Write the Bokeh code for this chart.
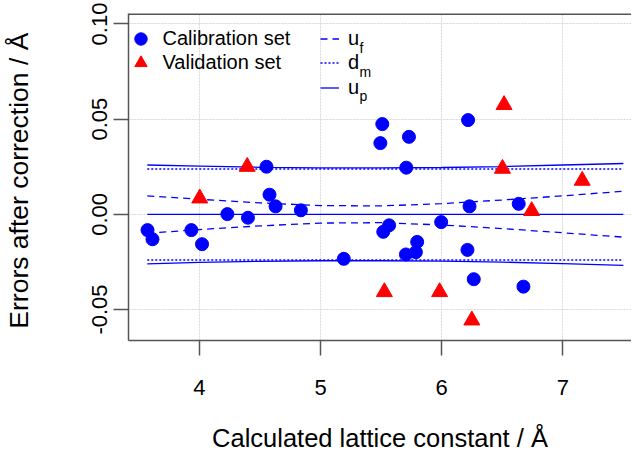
from bokeh.plotting import figure
from bokeh.models import Range1d, FixedTicker, Legend, LegendItem, Label, PrintfTickFormatter
from bokeh.embed import file_html
from bokeh.resources import INLINE

# Calibration set (blue circles)
cal_x = [3.572, 3.613, 3.934, 4.022, 4.231, 4.401, 4.554, 4.579, 4.629, 4.838, 5.192,
         5.510, 5.494, 5.730, 5.708, 6.218, 6.230, 6.636, 5.566, 5.518, 5.996,
         5.798, 5.787, 5.705, 6.213, 6.265, 6.675]
cal_y = [-0.0083, -0.0131, -0.0083, -0.0157, 0.0001, -0.0018, 0.0250, 0.0103, 0.0042, 0.0021, -0.0234,
         0.0474, 0.0374, 0.0407, 0.0245, 0.0495, 0.0042, 0.0055, -0.0058, -0.0092, -0.0041,
         -0.0145, -0.0199, -0.0211, -0.0187, -0.0341, -0.0380]

# Validation set (red triangles)
val_x = [4.395, 4.003, 6.515, 6.502, 7.160, 6.743, 5.527, 5.983, 6.249]
val_y = [0.0250, 0.0084, 0.0575, 0.0240, 0.0177, 0.0018, -0.0408, -0.0408, -0.0557]

# Bands
band_x = [3.57, 4.0, 4.5, 5.0, 5.5, 6.0, 6.5, 7.0, 7.5]
uf_upper = [0.0097, 0.0079, 0.0060, 0.0046, 0.0044, 0.0056, 0.0075, 0.0097, 0.0121]
uf_lower = [-0.0100, -0.0080, -0.0061, -0.0046, -0.0044, -0.0056, -0.0075, -0.0097, -0.0120]
up_upper = [0.0259, 0.0253, 0.0247, 0.0244, 0.0244, 0.0246, 0.0251, 0.0259, 0.0267]
up_lower = [-0.0260, -0.0253, -0.0247, -0.0244, -0.0244, -0.0246, -0.0251, -0.0259, -0.0268]
dm_upper = [0.0238, 0.0238]
dm_lower = [-0.0240, -0.0240]
dm_x = [3.57, 7.5]
zero_x = [3.57, 7.5]
zero_y = [0.0, 0.0]

x_ticks = [4, 5, 6, 7]
y_ticks = [-0.05, 0.0, 0.05, 0.10]

BLUE = "#0000FF"
RED = "#FF0000"
FONT = "Liberation Sans"
AX = "#555555"

p = figure(width=631, height=454, output_backend="svg", toolbar_location=None,
           x_range=Range1d(3.415, 7.567), y_range=Range1d(-0.0663, 0.1055),
           min_border_left=127, min_border_right=0, min_border_top=13, min_border_bottom=114,
           outline_line_color=None, background_fill_color="white")

# grid
p.xgrid.ticker = FixedTicker(ticks=x_ticks)
p.ygrid.ticker = FixedTicker(ticks=y_ticks)
for g in (p.xgrid, p.ygrid):
    g.grid_line_color = "#d8d8d8"
    g.grid_line_dash = "2 1"
    g.grid_line_width = 1

# axes
p.xaxis.ticker = FixedTicker(ticks=x_ticks)
p.yaxis.ticker = FixedTicker(ticks=y_ticks)
p.yaxis.formatter = PrintfTickFormatter(format="%.2f")
p.xaxis.axis_label = "Calculated lattice constant / Å"
p.yaxis.axis_label = "Errors after correction  / Å"
for ax in (p.xaxis[0], p.yaxis[0]):
    ax.axis_line_color = AX
    ax.axis_line_width = 1.5
    ax.major_tick_line_color = AX
    ax.major_tick_line_width = 1.5
    ax.major_tick_out = 15
    ax.major_tick_in = 0
    ax.minor_tick_line_color = None
    ax.major_label_text_font = FONT
    ax.major_label_text_font_size = "22px"
    ax.major_label_text_color = "black"
    ax.axis_label_text_font = FONT
    ax.axis_label_text_font_style = "normal"
    ax.axis_label_text_color = "black"
p.xaxis.axis_label_text_font_size = "25.5px"
p.yaxis.axis_label_text_font_size = "26.5px"
p.yaxis.major_label_orientation = "vertical"
p.xaxis.major_label_standoff = 24
p.xaxis.axis_label_standoff = 26
p.yaxis.major_label_standoff = 6
p.yaxis.axis_label_standoff = 56

# top border of the plot box (half of the width lies inside the frame)
p.line([p.x_range.start, p.x_range.end], [p.y_range.end, p.y_range.end],
       line_color=AX, line_width=3)

# bands
r_uf = p.line(band_x, uf_upper, line_color=BLUE, line_width=1.3, line_dash="7 5")
p.line(band_x, uf_lower, line_color=BLUE, line_width=1.3, line_dash="7 5")
r_dm = p.line(dm_x, dm_upper, line_color=BLUE, line_width=1.3, line_dash="2 2")
p.line(dm_x, dm_lower, line_color=BLUE, line_width=1.3, line_dash="2 2")
r_up = p.line(band_x, up_upper, line_color=BLUE, line_width=1.3)
p.line(band_x, up_lower, line_color=BLUE, line_width=1.3)
p.line(zero_x, zero_y, line_color=BLUE, line_width=1.3)

# points
r_cal = p.scatter(cal_x, cal_y, marker="circle", size=13, fill_color=BLUE, line_color=BLUE)
r_val = p.scatter(val_x, val_y, marker="triangle", size=16, fill_color=RED, line_color=RED)

def one_legend(label, renderer, loc, gw, standoff):
    lg = Legend(items=[LegendItem(label=label, renderers=[renderer])], location=loc)
    lg.border_line_color = None
    lg.background_fill_alpha = 0
    lg.padding = 0
    lg.margin = 0
    lg.spacing = 0
    lg.glyph_width = gw
    lg.glyph_height = 31
    lg.label_height = 20
    lg.label_standoff = standoff
    lg.label_text_font = FONT
    lg.label_text_font_size = "20px"
    lg.label_text_color = "black"
    p.add_layout(lg, "center")

one_legend("Calibration set", r_cal, (-3.5, 286.5), 31, 7)
one_legend("Validation set", r_val, (-3.5, 262), 31, 7)
one_legend("u", r_uf, (192, 286.5), 19, 9)
one_legend("d", r_dm, (192, 262.5), 19, 9)
one_legend("u", r_up, (192, 237.5), 19, 9)

for sub, sy in (("f", 293), ("m", 269), ("p", 245)):
    p.add_layout(Label(x=231, y=sy, x_units="screen", y_units="screen", text=sub,
                       text_font=FONT, text_font_size="14px", text_color="black",
                       text_baseline="alphabetic"))

open("out.html", "w").write(file_html(p, INLINE))
